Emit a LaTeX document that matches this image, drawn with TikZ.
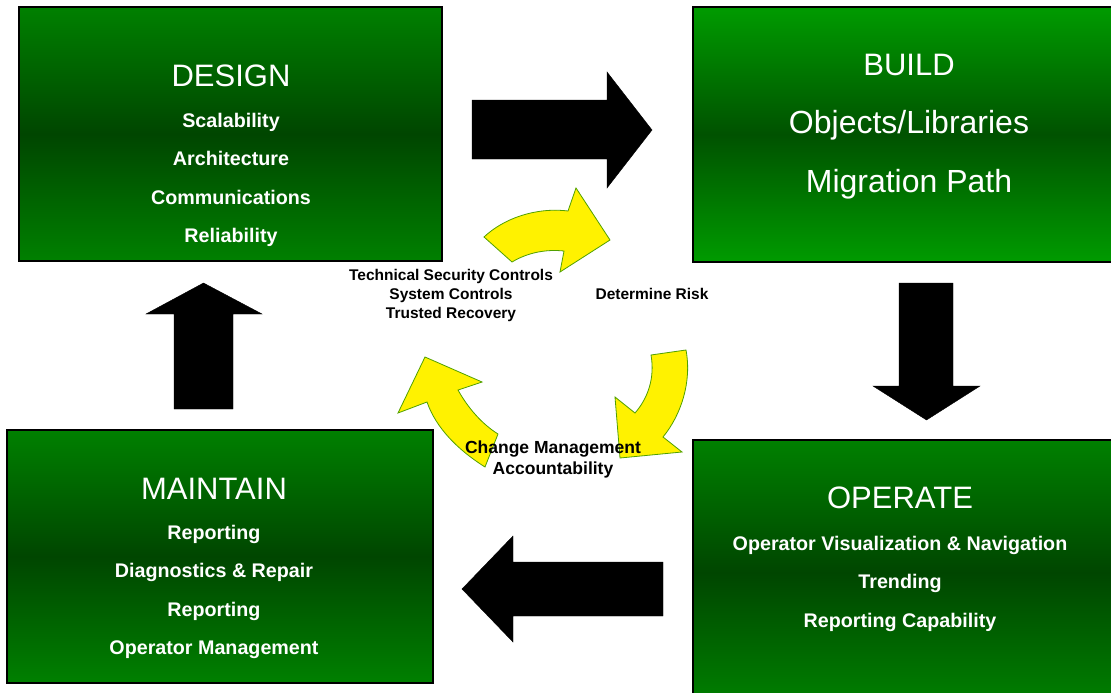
\documentclass[tikz,border=0pt]{standalone}
\usepackage{fontspec}
\setmainfont{Liberation Sans}
\usetikzlibrary{positioning}

\definecolor{boxgreen}{RGB}{0,128,0}
\definecolor{boxdark}{RGB}{0,70,0}
\definecolor{buildgreen}{RGB}{0,155,0}
\definecolor{builddark}{RGB}{0,82,0}
\definecolor{cycline}{RGB}{80,160,0}

\tikzset{
  box/.style={draw=black, line width=1.8pt, inner sep=0pt,
    top color=boxgreen, bottom color=boxgreen, middle color=boxdark},
  buildbox/.style={box, top color=buildgreen, bottom color=buildgreen, middle color=builddark},
  title/.style={text=white, font=\fontsize{31}{31}\selectfont, inner sep=0pt,
    text height=22pt, text depth=0pt},
  item/.style={text=white, font=\bfseries\fontsize{19.7}{19.7}\selectfont, inner sep=0pt,
    text height=14pt, text depth=4pt},
  bigitem/.style={text=white, font=\fontsize{32}{32}\selectfont, inner sep=0pt,
    text height=22pt, text depth=7pt},
  note/.style={font=\bfseries\fontsize{15.5}{19}\selectfont, align=center, inner sep=0pt},
  blockarrow/.style={fill=black, draw=black},
  cycarrow/.style={fill=yellow, draw=cycline, line width=0.8pt},
}

\begin{document}
\begin{tikzpicture}[x=1pt,y=-1pt,node distance=20pt]
  \useasboundingbox (0,0) rectangle (1111,693);
  % Boxes
  \node[box, minimum width=423pt, minimum height=254pt]      (design)   at (230.5,134) {};
  \node[buildbox, minimum width=432pt, minimum height=255pt] (build)    at (909,134.5) {};
  \node[box, minimum width=426pt, minimum height=253pt]      (maintain) at (220,556.5) {};
  \node[box, minimum width=427pt, minimum height=265pt]      (operate)  at (906.5,572.5) {};

  % Box texts
  \node[title] (designT) at (231,75) {DESIGN};
  \node[item, below=27pt of designT] (design1) {Scalability};
  \node[item, below=of design1]      (design2) {Architecture};
  \node[item, below=of design2]      (design3) {Communications};
  \node[item, below=of design3]      (design4) {Reliability};

  \node[title] (buildT) at (909,65) {BUILD};
  \node[bigitem, below=35pt of buildT] (build1) {Objects/Libraries};
  \node[bigitem, below=30pt of build1] (build2) {Migration Path};

  \node[title] (operateT) at (900,497) {OPERATE};
  \node[item, below=28pt of operateT] (operate1) {Operator Visualization \& Navigation};
  \node[item, below=of operate1]      (operate2) {Trending};
  \node[item, below=of operate2]      (operate3) {Reporting Capability};

  \node[title] (maintainT) at (214,488) {MAINTAIN};
  \node[item, below=26pt of maintainT] (maintain1) {Reporting};
  \node[item, below=of maintain1]      (maintain2) {Diagnostics \& Repair};
  \node[item, below=of maintain2]      (maintain3) {Reporting};
  \node[item, below=of maintain3]      (maintain4) {Operator Management};

  % Block arrows between the boxes
  \fill[blockarrow] (472,100) -- (607,100) -- (607,72) -- (652,130) -- (607,188) -- (607,159) -- (472,159) -- cycle;
  \fill[blockarrow] (899,283) -- (953,283) -- (953,386) -- (980,386) -- (926.5,420) -- (873,386) -- (899,386) -- cycle;
  \fill[blockarrow] (663,562) -- (513,562) -- (513,536) -- (462,589) -- (513,642) -- (513,616) -- (663,616) -- cycle;
  \fill[blockarrow] (174,409) -- (174,314) -- (146,314) -- (203.5,283) -- (262,314) -- (233,314) -- (233,409) -- cycle;

  % Inner cycle
  \filldraw[cycarrow] (484,237) .. controls (503,219) and (535,207) .. (568,211) -- (576,188) -- (610,240)
    -- (560,272) -- (564,251) .. controls (545,249) and (527,253) .. (512,262) -- cycle;
  \filldraw[cycarrow] (686,350) .. controls (692,382) and (681,415) .. (663,437) -- (682,452) -- (620,458)
    -- (615,397) -- (635,413) .. controls (648,398) and (655,378) .. (651,355) -- cycle;
  \filldraw[cycarrow] (485,467) .. controls (458,450) and (436,428) .. (427,402) -- (398,413) -- (425,357)
    -- (482,382) -- (458,390) .. controls (468,408) and (482,424) .. (498,434) -- cycle;

  % Cycle labels
  \node[note] (controls) at (451,295) {Technical Security Controls\\System Controls\\Trusted Recovery};
  \node[note] (risk) at (652,294) {Determine Risk};
  \node[note, font=\bfseries\fontsize{17.5}{21}\selectfont] (change) at (553,459.5) {Change Management\\Accountability};
\end{tikzpicture}
\end{document}
